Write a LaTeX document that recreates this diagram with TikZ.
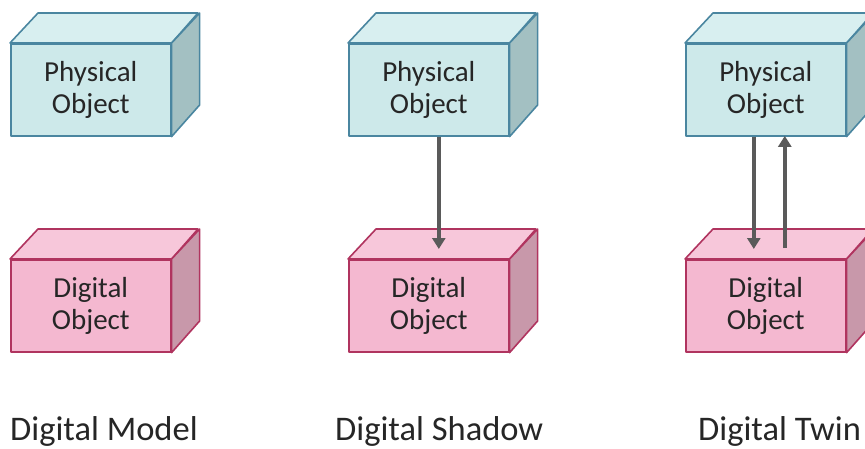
\documentclass[tikz,border=0pt]{standalone}
\usepackage{fontspec}
\setmainfont{Carlito}
\usetikzlibrary{arrows.meta}
\definecolor{cyfront}{HTML}{CDE9EA}
\definecolor{cytop}{HTML}{D8EFF0}
\definecolor{cyside}{HTML}{A3C0C2}
\definecolor{cyedge}{HTML}{4A86A0}
\definecolor{pkfront}{HTML}{F4B8D0}
\definecolor{pktop}{HTML}{F7C7DA}
\definecolor{pkside}{HTML}{C898AA}
\definecolor{pkedge}{HTML}{B0345F}
\definecolor{arrgray}{HTML}{5A5A5A}
\definecolor{txt}{HTML}{262626}
\tikzset{
  facebox/.style={draw=#1edge, fill=#1front, line width=1.6pt, line join=round,
    minimum width=160pt, minimum height=92pt, anchor=north west, inner sep=0pt,
    align=center, text=txt, font=\fontsize{29}{32}\selectfont},
  topface/.style={draw=#1edge, fill=#1top, line width=1.6pt, line join=round},
  sideface/.style={draw=#1edge, fill=#1side, line width=1.6pt, line join=round},
  arr/.style={draw=arrgray, line width=4pt, -{Triangle[width=13pt,length=11pt]}},
  caption/.style={anchor=base west, inner sep=0pt, text=txt, font=\fontsize{34.5}{40}\selectfont}
}
\newcommand{\drawcube}[5]{%
  \node[facebox=#4] (#1) at (#2,#3) {#5};
  \draw[topface=#4] (#1.north west) -- ++(28pt,30pt) -- ++(160pt,0pt) -- (#1.north east) -- cycle;
  \draw[sideface=#4] (#1.north east) -- ++(28pt,30pt) -- ++(0pt,-92pt) -- (#1.south east) -- cycle;
}
\begin{document}
\begin{tikzpicture}[x=1pt,y=-1pt]
\useasboundingbox (0,0) rectangle (865,448);
% column 1
\drawcube{p1}{10}{43}{cy}{Physical\\Object}
\drawcube{d1}{10}{259}{pk}{Digital\\Object}
% column 2
\drawcube{p2}{348}{43}{cy}{Physical\\Object}
\drawcube{d2}{348}{259}{pk}{Digital\\Object}
% column 3
\drawcube{p3}{685}{43}{cy}{Physical\\Object}
\drawcube{d3}{685}{259}{pk}{Digital\\Object}
% arrows
\draw[arr] ([xshift=10pt]p2.south) -- ([xshift=10pt,yshift=10pt]d2.north);
\draw[arr] ([xshift=-12pt]p3.south) -- ([xshift=-12pt,yshift=10pt]d3.north);
\draw[arr] ([xshift=19pt,yshift=11pt]d3.north) -- ([xshift=19pt,yshift=0.7pt]p3.south);
% captions
\node[caption] (c1) at (10,440) {Digital Model};
\node[caption] (c2) at (335,440) {Digital Shadow};
\node[caption] (c3) at (698,440) {Digital Twin};
\end{tikzpicture}
\end{document}
